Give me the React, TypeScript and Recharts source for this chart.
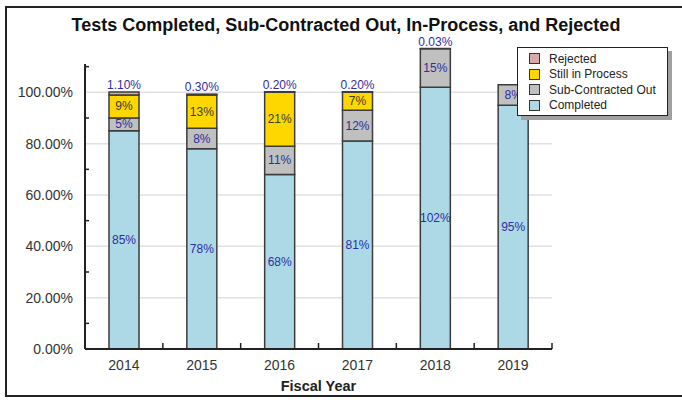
import React from 'react'
import { BarChart, Bar, XAxis, YAxis, CartesianGrid, LabelList, ReferenceLine } from 'recharts'

const years = ['2014', '2015', '2016', '2017', '2018', '2019']
const completed = [85, 78, 68, 81, 102, 95]
const subContracted = [5, 8, 11, 12, 15, 8]
const inProcess = [9, 13, 21, 7, null, null]
const rejected = [1.1, 0.3, 0.2, 0.2, 0.03, null]

const yTicks = [0, 10, 20, 30, 40, 50, 60, 70, 80, 90, 100, 110]
const gridValues = [20, 40, 60, 80, 100]
const yMax = 120
const axisTop = 111

const data = years.map((year, i) => ({
  year,
  completed: completed[i],
  subContracted: subContracted[i],
  inProcess: inProcess[i],
  rejected: rejected[i],
}))

const legendItems = [
  { name: 'Rejected', color: '#d9a9ab' },
  { name: 'Still in Process', color: '#ffd700' },
  { name: 'Sub-Contracted Out', color: '#c0c0c0' },
  { name: 'Completed', color: '#add8e6' },
]

const FONT = "Arial, 'Liberation Sans', sans-serif"
const BLUE = '#2e2e9e'
const EDGE = '#3c3c3c'

function YTick({ x, y, payload }: any) {
  const v = payload.value
  if (v % 20 !== 0) {
    // minor tick, inside the plot
    return <line x1={x} x2={x + 4} y1={y} y2={y} stroke="#222" strokeWidth={1.5} />
  }
  return (
    <text x={x - 12} y={y} textAnchor="end" dominantBaseline="central" fontSize={14} fill="#333" fontFamily={FONT}>
      {v.toFixed(2)}%
    </text>
  )
}

function XTick({ x, y, payload, width, visibleTicksCount }: any) {
  const half = width && visibleTicksCount ? width / visibleTicksCount / 2 : 0
  return (
    <g>
      <text x={x} y={y + 16} textAnchor="middle" dominantBaseline="central" fontSize={14} fill="#333" fontFamily={FONT}>
        {payload.value}
      </text>
      <line x1={x + half} x2={x + half} y1={y} y2={y - 6} stroke="#222" strokeWidth={1.5} />
    </g>
  )
}

const segmentLabel = (color: string) => (p: any) => {
  const vb = p.viewBox ?? p
  if (p.value == null || p.value === 0) return null
  const top = Math.min(vb.y, vb.y + vb.height)
  const h = Math.abs(vb.height)
  return (
    <text x={vb.x + vb.width / 2} y={top + h / 2} textAnchor="middle" dominantBaseline="central" fontSize={12} fill={color} fontFamily={FONT}>
      {Math.round(p.value)}%
    </text>
  )
}

const topLabel = (p: any) => {
  const vb = p.viewBox ?? p
  if (p.value == null) return null
  const top = Math.min(vb.y, vb.y + vb.height)
  return (
    <text x={vb.x + vb.width / 2} y={top - 7} textAnchor="middle" dominantBaseline="central" fontSize={12} fill={BLUE} fontFamily={FONT}>
      {p.value.toFixed(2)}%
    </text>
  )
}

export default function App() {
  return (
    <div style={{ position: 'relative', width: 682, height: 400, overflow: 'hidden', background: '#fff', fontFamily: FONT }}>
      <style>{'body{margin:0}'}</style>
      <div style={{ position: 'absolute', left: 5, top: 6, width: 700, height: 391, border: '2px solid #222', boxSizing: 'border-box' }} />
      <div style={{ position: 'absolute', left: 46, top: 13, width: 600, textAlign: 'center', fontSize: 18, fontWeight: 'bold', color: '#111', lineHeight: '24px' }}>
        Tests Completed, Sub-Contracted Out, In-Process, and Rejected
      </div>
      <div style={{ position: 'absolute', left: 0, top: 0 }}>
        <BarChart width={682} height={400} data={data} margin={{ top: 41, right: 130, left: 5, bottom: 6 }}>
          <CartesianGrid vertical={false} horizontalValues={gridValues} stroke="#e2e2e2" strokeWidth={1.5} />
          <XAxis
            dataKey="year"
            height={45}
            tickSize={0}
            tickMargin={0}
            tick={<XTick />}
            axisLine={{ stroke: '#222', strokeWidth: 2 }}
            tickLine={false}
            label={{ value: 'Fiscal Year', position: 'insideBottom', offset: 3, fontSize: 14.5, fontWeight: 'bold', fill: '#222', fontFamily: FONT }}
          />
          <YAxis
            width={80}
            domain={[0, yMax]}
            ticks={yTicks}
            interval={0}
            tickSize={0}
            tickMargin={0}
            tick={<YTick />}
            tickLine={false}
            axisLine={false}
          />
          <Bar dataKey="completed" stackId="a" fill="#add8e6" stroke={EDGE} strokeWidth={1.5} barSize={30} isAnimationActive={false}>
            <LabelList dataKey="completed" content={segmentLabel(BLUE)} />
          </Bar>
          <Bar dataKey="subContracted" stackId="a" fill="#c0c0c0" stroke={EDGE} strokeWidth={1.5} barSize={30} isAnimationActive={false}>
            <LabelList dataKey="subContracted" content={segmentLabel(BLUE)} />
          </Bar>
          <Bar dataKey="inProcess" stackId="a" fill="#ffd700" stroke={EDGE} strokeWidth={1.5} barSize={30} isAnimationActive={false}>
            <LabelList dataKey="inProcess" content={segmentLabel('#3d3a2a')} />
          </Bar>
          <Bar dataKey="rejected" stackId="a" fill="#d9a9ab" stroke={EDGE} strokeWidth={1.5} barSize={30} isAnimationActive={false}>
            <LabelList dataKey="rejected" content={topLabel} />
          </Bar>
          {/* y axis line stops just above the 110% tick, like the original */}
          <ReferenceLine
            segment={[{ x: years[0], y: 0 }, { x: years[0], y: axisTop }]}
            position="start"
            stroke="#222"
            strokeWidth={2}
          />
        </BarChart>
      </div>
      <div
        style={{
          position: 'absolute', left: 517, top: 47, width: 151, height: 69, boxSizing: 'border-box',
          background: '#fff', border: '1.5px solid #222', boxShadow: '4px 4px 0 #a0a0a0', padding: '3px 0 0 11px',
        }}
      >
        {legendItems.map(item => (
          <div key={item.name} style={{ display: 'flex', alignItems: 'center', height: 15.5, fontSize: 12, color: '#222' }}>
            <span style={{ width: 11, height: 11, background: item.color, border: '1px solid #333', marginRight: 9, boxSizing: 'border-box' }} />
            {item.name}
          </div>
        ))}
      </div>
    </div>
  )
}
